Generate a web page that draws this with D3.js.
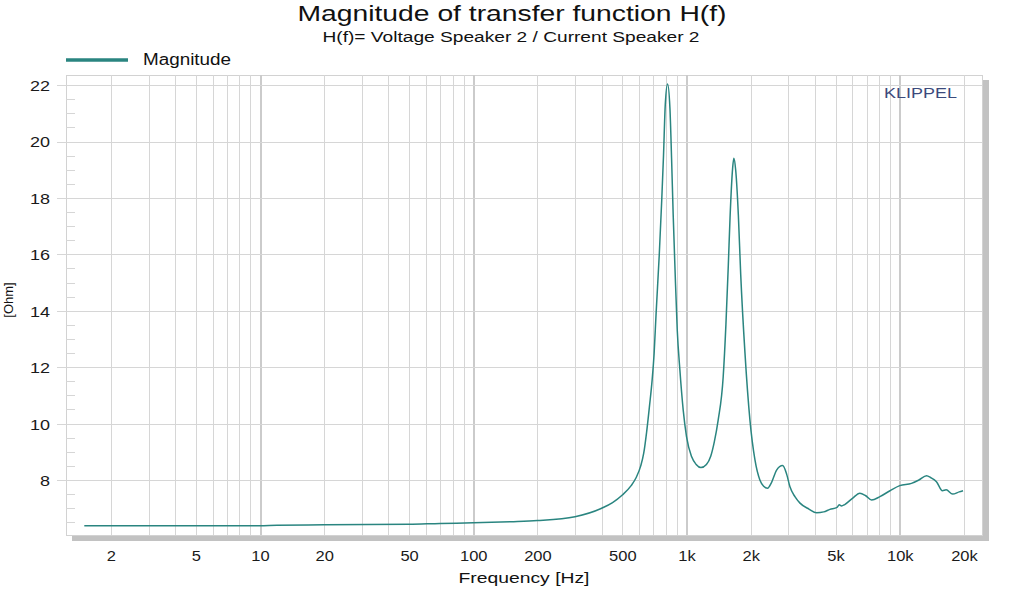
<!DOCTYPE html>
<html>
<head>
<meta charset="utf-8">
<script src="https://cdn.jsdelivr.net/npm/d3@7"></script>
<style>
  body { margin: 0; background: #fff; }
  svg { display: block; font-family: "Liberation Sans", Arial, sans-serif; }
  .grid line { stroke: #d6d6d6; shape-rendering: crispEdges; }
  .grid path { display: none; }
  .ticks path { display: none; }
  .ticks text { fill: #1a1a1a; font-size: 15px; }
</style>
</head>
<body>
<svg id="chart" width="1024" height="592"></svg>
<script>
const freqHz = [1.5, 5, 10, 12, 20, 50, 70, 100, 150, 200, 300, 400, 450, 500, 550, 580, 610, 630,
  650, 670, 690, 705, 720, 745, 765, 780, 795, 815, 836, 851, 866, 883, 905, 931, 965, 1000, 1056,
  1110, 1168, 1240, 1300, 1350, 1408, 1486, 1530, 1570, 1600, 1645, 1667, 1700, 1750, 1795, 1880,
  1983, 2094, 2208, 2300, 2399, 2500, 2645, 2822, 2950, 3055, 3230, 3405, 3750, 4074, 4400, 4700,
  5080, 5200, 5333, 5520, 6000, 6500, 6900, 7380, 8070, 9000, 10000, 11350, 12300, 13350, 14000,
  14860, 15850, 16500, 17700, 19000, 19800];
const ohm = [6.38, 6.38, 6.38, 6.40, 6.41, 6.43, 6.46, 6.48, 6.52, 6.56, 6.70, 7.00, 7.20, 7.47, 7.80,
  8.08, 8.50, 8.95, 9.70, 10.6, 11.55, 12.5, 13.9, 15.98, 17.9, 19.5, 21.3, 22.04, 21.19, 19.41,
  17.4, 15.5, 13.3, 11.9, 10.48, 9.54, 8.83, 8.55, 8.44, 8.55, 8.85, 9.35, 10.13, 11.66, 13.5,
  15.6, 17.3, 19.05, 19.41, 19.0, 17.4, 15.3, 12.5, 10.13, 8.71, 8.0, 7.78, 7.71, 7.9, 8.35, 8.51,
  8.2, 7.76, 7.4, 7.18, 6.97, 6.84, 6.87, 6.96, 7.03, 7.12, 7.08, 7.13, 7.35, 7.53, 7.45, 7.29,
  7.41, 7.62, 7.80, 7.88, 8.0, 8.15, 8.08, 7.94, 7.62, 7.65, 7.50, 7.58, 7.62];

const xTickValues = [2, 5, 10, 20, 50, 100, 200, 500, 1000, 2000, 5000, 10000, 20000];
const xTickLabels = ['2', '5', '10', '20', '50', '100', '200', '500', '1k', '2k', '5k', '10k', '20k'];
const yTickValues = [8, 10, 12, 14, 16, 18, 20, 22];

const lineColor = '#2a8580';

const svg = d3.select('#chart'),
  margin = {top: 75, left: 66},
  width = 916,
  height = 460,
  g = svg.append('g').attr('transform', 'translate(' + margin.left + ',' + margin.top + ')');

const x = d3.scaleLog().domain([1.231, 24300]).range([0, width]),
  y = d3.scaleLinear().domain([6.05, 22.36]).range([height, 0]);

// stretch text to the widths seen in the reference
function fit(sel, w) {
  sel.attr('textLength', w).attr('lengthAdjust', 'spacingAndGlyphs');
}
function widen(sel, k) {
  sel.each(function () {
    const t = d3.select(this);
    t.attr('textLength', this.getComputedTextLength() * k).attr('lengthAdjust', 'spacingAndGlyphs');
  });
}

// drop shadow of the plot box
g.append('rect').attr('x', 6).attr('y', 5).attr('width', width + 1).attr('height', height + 1)
  .attr('fill', '#c2c2c2');
g.append('rect').attr('x', 0).attr('y', 0).attr('width', width).attr('height', height)
  .attr('fill', '#fff').attr('stroke', '#d2d2d2').attr('shape-rendering', 'crispEdges');

// vertical grid: 2..9 of each decade, decades heavier
const minorX = [], decadeX = [];
for (let dec = 1; dec <= 10000; dec *= 10) {
  for (let m = 1; m <= 9; m++) {
    const f = dec * m;
    if (f < x.domain()[0] || f > x.domain()[1]) continue;
    (m === 1 ? decadeX : minorX).push(f);
  }
}
g.append('g').attr('class', 'grid')
  .attr('transform', 'translate(0,' + height + ')')
  .call(d3.axisBottom(x).tickValues(minorX).tickSize(-height).tickFormat(''));
g.append('g').attr('class', 'grid decade')
  .attr('transform', 'translate(0,' + height + ')')
  .call(d3.axisBottom(x).tickValues(decadeX).tickSize(-height).tickFormat(''))
  .selectAll('line').style('stroke', '#cbcbcb').style('stroke-width', 2);

// horizontal grid + minor ticks
const minorY = d3.range(6.5, 22.4, 0.5).filter(function (v) { return v % 2 !== 0; });
g.append('g').attr('class', 'grid')
  .call(d3.axisLeft(y).tickValues(minorY).tickSize(-9).tickFormat(''));
const yAxis = g.append('g').attr('class', 'grid ticks')
  .call(d3.axisLeft(y).tickValues(yTickValues).tickSize(-width).tickPadding(16));
yAxis.selectAll('line').attr('x1', -9);
yAxis.selectAll('text').attr('dy', '0.36em').call(widen, 1.2);

const xAxis = g.append('g').attr('class', 'ticks')
  .attr('transform', 'translate(0,' + height + ')')
  .call(d3.axisBottom(x).tickValues(xTickValues).tickSize(0).tickPadding(0)
    .tickFormat(function (d, i) { return xTickLabels[i]; }));
xAxis.selectAll('text').attr('y', 26).attr('dy', 0).call(widen, 1.1);

// the curve
const line = d3.line()
  .curve(d3.curveMonotoneX)
  .x(function (d) { return x(d[0]); })
  .y(function (d) { return y(d[1]); });

g.append('path')
  .datum(freqHz.map(function (f, i) { return [f, ohm[i]]; }))
  .attr('d', line)
  .attr('fill', 'none')
  .attr('stroke', lineColor)
  .attr('stroke-width', 1.5)
  .attr('stroke-linejoin', 'round');

g.append('text').attr('x', 818).attr('y', 23)
  .style('font-size', '14px').style('fill', '#3b4a7c')
  .text('KLIPPEL').call(fit, 73);

// titles, legend, axis labels
svg.append('text').attr('x', 512).attr('y', 21).attr('text-anchor', 'middle')
  .style('font-size', '22px').style('fill', '#111')
  .text('Magnitude of transfer function H(f)').call(fit, 429);
svg.append('text').attr('x', 511).attr('y', 42).attr('text-anchor', 'middle')
  .style('font-size', '14px').style('fill', '#111')
  .text('H(f)= Voltage Speaker 2 / Current Speaker 2').call(fit, 377);

svg.append('line').attr('x1', 66).attr('x2', 128).attr('y1', 60).attr('y2', 60)
  .attr('stroke', lineColor).attr('stroke-width', 3.5);
svg.append('text').attr('x', 143).attr('y', 65)
  .style('font-size', '16px').style('fill', '#111')
  .text('Magnitude').call(fit, 88);

svg.append('text').attr('x', 524).attr('y', 583).attr('text-anchor', 'middle')
  .style('font-size', '15px').style('fill', '#111')
  .text('Frequency [Hz]').call(fit, 131);

svg.append('text').attr('transform', 'translate(13,300) rotate(-90)').attr('text-anchor', 'middle')
  .style('font-size', '13px').style('fill', '#111')
  .text('[Ohm]');
</script>
</body>
</html>
